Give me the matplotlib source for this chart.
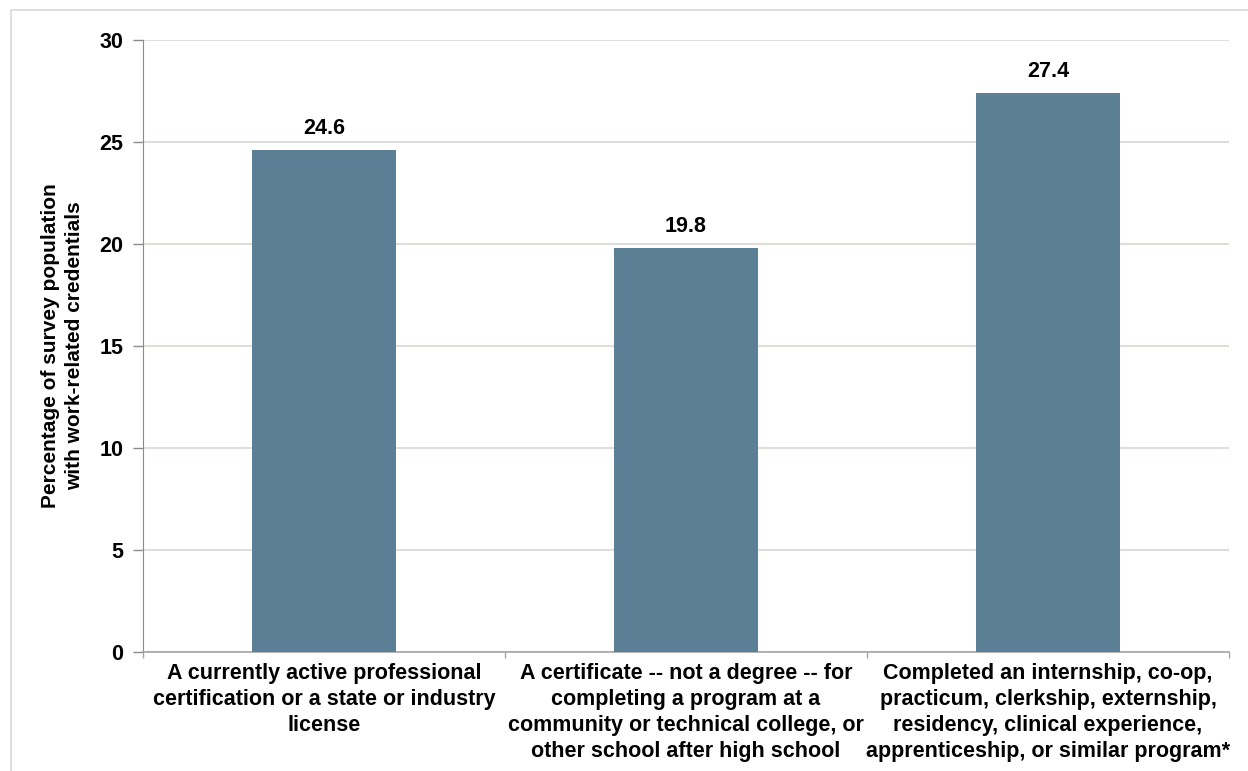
import matplotlib.pyplot as plt
from matplotlib.patches import Rectangle

plt.rcParams['font.family'] = ['Liberation Sans', 'DejaVu Sans']
plt.rcParams['font.weight'] = 'bold'

categories = [
    "A currently active professional\ncertification or a state or industry\nlicense",
    "A certificate -- not a degree -- for\ncompleting a program at a\ncommunity or technical college, or\nother school after high school",
    "Completed an internship, co-op,\npracticum, clerkship, externship,\nresidency, clinical experience,\napprenticeship, or similar program*",
]
values = [24.6, 19.8, 27.4]
y_ticks = [0, 5, 10, 15, 20, 25, 30]

bar_color = "#5B7F95"
grid_color = "#E2DDD6"

fig = plt.figure(figsize=(12.48, 7.71), dpi=100)
# light frame around the chart area
fig.patches.append(Rectangle((11 / 1248, -0.05), 1.2, 1 - 10 / 771 + 0.05,
                             transform=fig.transFigure, fill=False,
                             edgecolor="#D9D9D9", linewidth=1.2))

ax = fig.add_axes([143 / 1248, 1 - 652 / 771, (1229 - 143) / 1248, (652 - 40) / 771])

x = range(len(categories))
ax.bar(x, values, width=0.4, color=bar_color, zorder=3)
for xi, v in zip(x, values):
    ax.annotate(f"{v:.1f}", (xi, v), xytext=(0, 8), textcoords="offset points",
                ha="center", va="bottom", fontsize=15.5, fontweight="bold")

ax.set_xlim(-0.5, len(categories) - 0.5)
ax.set_ylim(0, 30)
ax.set_yticks(y_ticks)
ax.set_yticklabels([str(t) for t in y_ticks], fontsize=15.5, fontweight="bold")
ax.set_xticks(list(x))
ax.set_xticklabels(categories, fontsize=15.5, fontweight="bold", linespacing=1.3)
ax.set_xticks([i - 0.5 for i in range(len(categories) + 1)], minor=True)
ax.tick_params(axis="x", which="major", length=0, pad=8)
ax.tick_params(axis="x", which="minor", length=4.5, color="#A6A6A6", width=1)
ax.tick_params(axis="y", length=7, color="#8C8C8C", width=1, pad=7)

ax.grid(axis="y", color=grid_color, linewidth=1.5, zorder=0)
ax.set_axisbelow(True)
for side in ("top", "right"):
    ax.spines[side].set_visible(False)
ax.spines["left"].set_color("#8C8C8C")
ax.spines["bottom"].set_color("#A6A6A6")
ax.spines["bottom"].set_linewidth(1.2)

ax.set_ylabel("Percentage of survey population\nwith work-related credentials",
              fontsize=15, fontweight="bold", linespacing=1.35)
ax.yaxis.set_label_coords((84 - 143) / 1086, 0.5)

fig.savefig("out.png", dpi=100)
